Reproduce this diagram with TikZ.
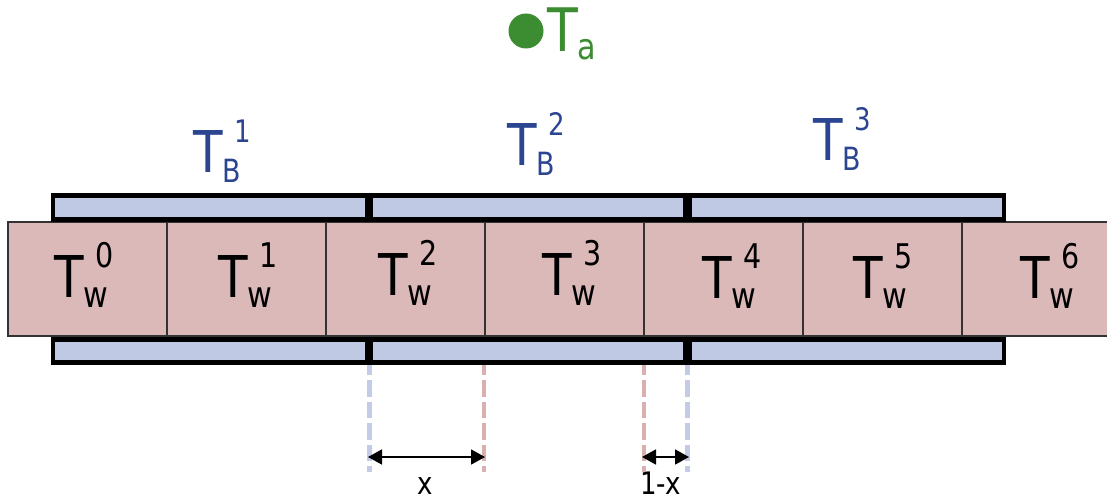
\documentclass[tikz,border=0pt]{standalone}
\usepackage{fontspec}
\setmainfont{DejaVu Sans}
\usetikzlibrary{arrows.meta}

\definecolor{barfill}{HTML}{C0C9E4}
\definecolor{cellfill}{HTML}{DCB9B9}
\definecolor{bluetext}{HTML}{2B4590}
\definecolor{greentext}{HTML}{3C8C32}
\definecolor{bluedash}{HTML}{C3CBE6}
\definecolor{reddash}{HTML}{D9AFAF}

% narrow glyphs at a given size
\newcommand\narrowtxt[2]{\scalebox{0.84}[1]{\fontsize{#1}{#1}\selectfont #2}}
% T with subscript #1 and superscript #2 (sizes #3, #4)
\newcommand\Tsym[4]{%
  \narrowtxt{57.6}{T}%
  \rlap{\raisebox{-10pt}{\narrowtxt{#3}{#1}}}%
  \hspace{12pt}\raisebox{30pt}{\narrowtxt{#4}{#2}}}

\begin{document}
\begin{tikzpicture}[x=1pt,y=-1pt,
  cell/.style={draw=black!80, line width=1.2pt, fill=cellfill,
    minimum width=159pt, minimum height=114pt, inner sep=0pt},
  bar/.style={draw=black, line width=4.6pt, fill=barfill,
    minimum width=314.75pt, inner sep=0pt},
  lbl/.style={inner sep=0pt, outer sep=0pt},
  dashline/.style={line width=4.5pt, dash pattern=on 16.5pt off 5pt, dash phase=6.5pt},
  dimline/.style={line width=1.8pt,
    {Triangle[length=14pt,width=15pt]}-{Triangle[length=14pt,width=15pt]}}]

\useasboundingbox (0,0) rectangle (1107,500);
\clip (0,0) rectangle (1107,500);

% row of wall cells
\foreach \i in {0,...,6}
  \node[cell] (w\i) at ({87.5+159*\i},279) {};

% boundary segments above and below
\node[bar, minimum height=24.5pt] (tb1) at (210.4,207.5) {};
\node[bar, minimum height=24.5pt] (tb2) at (528.25,207.5) {};
\node[bar, minimum height=24.5pt] (tb3) at (846.6,207.5) {};
\node[bar, minimum height=23.5pt] (bb1) at (210.4,351) {};
\node[bar, minimum height=23.5pt] (bb2) at (528.25,351) {};
\node[bar, minimum height=23.5pt] (bb3) at (846.6,351) {};

% cell labels
\node[lbl, anchor=base west] (lw0) at (54,297)  {\Tsym{w}{0}{36}{34}};
\node[lbl, anchor=base west] (lw1) at (218,297) {\Tsym{w}{1}{36}{34}};
\node[lbl, anchor=base west] (lw2) at (378,295) {\Tsym{w}{2}{36}{34}};
\node[lbl, anchor=base west] (lw3) at (542,295) {\Tsym{w}{3}{36}{34}};
\node[lbl, anchor=base west] (lw4) at (702,298) {\Tsym{w}{4}{36}{34}};
\node[lbl, anchor=base west] (lw5) at (853,298) {\Tsym{w}{5}{36}{34}};
\node[lbl, anchor=base west] (lw6) at (1020,298) {\Tsym{w}{6}{36}{34}};

% segment labels
\node[lbl, anchor=base west, text=bluetext] (lb1) at (193,172) {\Tsym{B}{1}{32}{31}};
\node[lbl, anchor=base west, text=bluetext] (lb2) at (507,165) {\Tsym{B}{2}{32}{31}};
\node[lbl, anchor=base west, text=bluetext] (lb3) at (813,160) {\Tsym{B}{3}{32}{31}};

% ambient point
\fill[greentext] (526,31) circle (17.5pt);
\node[lbl, anchor=base west, text=greentext] (ta) at (547,52)
  {\narrowtxt{60}{T}\raisebox{-8pt}{\narrowtxt{36}{a}}};

% guide lines
\coordinate (g1t) at (369.5,365); \coordinate (g1b) at (369.5,472);
\coordinate (g2t) at (484,365);   \coordinate (g2b) at (484,472);
\coordinate (g3t) at (644,365);   \coordinate (g3b) at (644,472);
\coordinate (g4t) at (687.5,365); \coordinate (g4b) at (687.5,472);
\draw[dashline, bluedash] (g1t) -- (g1b);
\draw[dashline, reddash]  (g2t) -- (g2b);
\draw[dashline, reddash]  (g3t) -- (g3b);
\draw[dashline, bluedash] (g4t) -- (g4b);

% distances
\coordinate (a1) at (368,457); \coordinate (a2) at (485,457);
\coordinate (a3) at (642,457); \coordinate (a4) at (689,457);
\draw[dimline] (a1) -- (a2);
\draw[dimline] (a3) -- (a4);
\node[lbl, anchor=base] (lx) at (425.5,494) {\narrowtxt{31}{x}};
\node[lbl, anchor=base west] (l1x) at (640,494) {\narrowtxt{31}{1-x}};

\end{tikzpicture}
\end{document}
